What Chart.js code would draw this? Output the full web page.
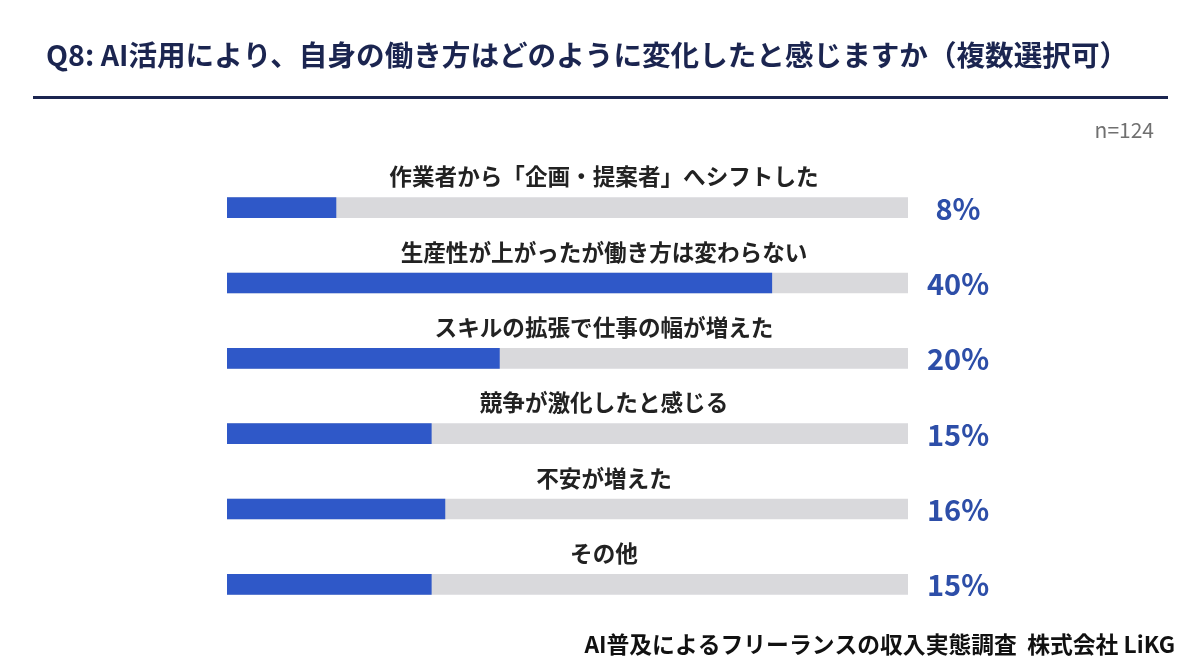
<!DOCTYPE html>
<html>
<head>
<meta charset="utf-8">
<script src="https://cdn.jsdelivr.net/npm/chart.js@4.4.1/dist/chart.umd.min.js"></script>
<style>
  html, body { margin: 0; padding: 0; background: #ffffff; }
  #wrap { position: relative; width: 1200px; height: 670px; }
</style>
</head>
<body>
<div id="wrap"><canvas id="c" width="1200" height="670"></canvas></div>
<script>
const titleText = 'Q8: AI活用により、自身の働き方はどのように変化したと感じますか（複数選択可）';
const sampleText = 'n=124';
const footerText = 'AI普及によるフリーランスの収入実態調査  株式会社 LiKG';
const categories = [
  '作業者から「企画・提案者」へシフトした',
  '生産性が上がったが働き方は変わらない',
  'スキルの拡張で仕事の幅が増えた',
  '競争が激化したと感じる',
  '不安が増えた',
  'その他'
];
const percentValues = [8, 40, 20, 15, 16, 15];
const xMax = 50;
const trackValues = categories.map(() => xMax);

const FONT = '"Noto Sans CJK JP", "Noto Sans", sans-serif';

const decorPlugin = {
  id: 'decor',
  afterDraw(chart) {
    const ctx = chart.ctx;
    const y = chart.scales.y;
    ctx.save();
    // title
    ctx.fillStyle = '#1b2550';
    ctx.font = 'bold 28.6px ' + FONT;
    ctx.textAlign = 'left';
    ctx.textBaseline = 'middle';
    ctx.fillText(titleText, 46, 55);
    // underline
    ctx.fillStyle = '#1b2550';
    ctx.fillRect(33, 96, 1135, 3);
    // n=124
    ctx.fillStyle = '#707070';
    ctx.font = '21px ' + FONT;
    ctx.textAlign = 'right';
    ctx.fillText(sampleText, 1154, 130);
    // category labels and percent labels
    categories.forEach((cat, i) => {
      const py = y.getPixelForValue(i);
      ctx.fillStyle = '#222222';
      ctx.font = 'bold 22.6px ' + FONT;
      ctx.textAlign = 'center';
      ctx.fillText(cat, 604, py - 31);
      ctx.fillStyle = '#2d4ea8';
      ctx.font = 'bold 29px ' + FONT;
      ctx.fillText(percentValues[i] + '%', 958, py + 1);
    });
    // footer
    ctx.fillStyle = '#111111';
    ctx.font = 'bold 22.8px ' + FONT;
    ctx.textAlign = 'right';
    ctx.fillText(footerText, 1175, 644);
    ctx.restore();
  }
};

new Chart(document.getElementById('c'), {
  type: 'bar',
  data: {
    labels: categories,
    datasets: [
      {
        data: percentValues,
        backgroundColor: '#2f58c8',
        barThickness: 20,
        grouped: false,
        borderWidth: 0
      },
      {
        data: trackValues,
        backgroundColor: '#d9d9dc',
        barThickness: 20,
        grouped: false,
        borderWidth: 0
      }
    ]
  },
  options: {
    indexAxis: 'y',
    responsive: false,
    animation: false,
    devicePixelRatio: 1,
    layout: { padding: { left: 227, right: 292, top: 170, bottom: 48 } },
    scales: {
      x: { display: false, min: 0, max: xMax },
      y: { display: false }
    },
    plugins: {
      legend: { display: false },
      tooltip: { enabled: false },
      title: { display: false }
    }
  },
  plugins: [decorPlugin]
});
</script>
</body>
</html>
